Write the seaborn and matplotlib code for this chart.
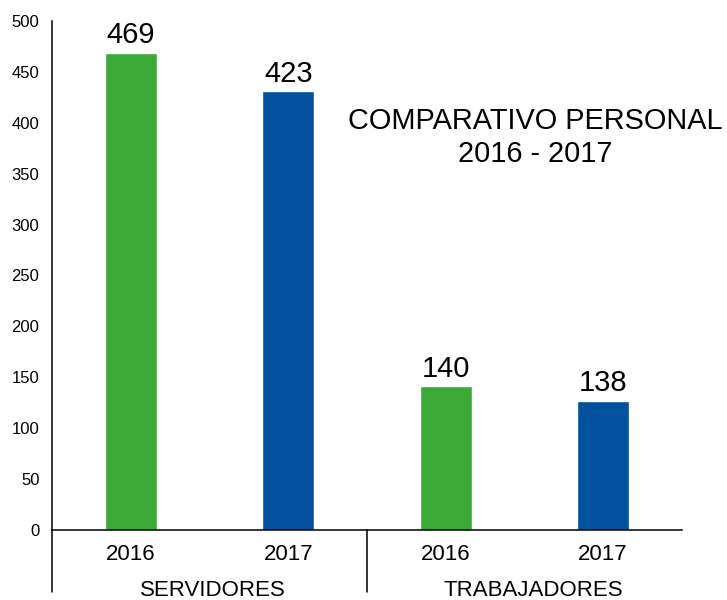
import numpy as np
import pandas as pd
import matplotlib
matplotlib.use("Agg")
import matplotlib.pyplot as plt
import seaborn as sns

# datos
grupos = ["SERVIDORES", "SERVIDORES", "TRABAJADORES", "TRABAJADORES"]
anios = ["2016", "2017", "2016", "2017"]
alturas = [469, 431, 141, 127]          # alto de las barras como se ven en el grafico
etiquetas = ["469", "423", "140", "138"]  # numeros escritos sobre las barras
colores = {"2016": "#3CAA36", "2017": "#02509E"}

df = pd.DataFrame({"grupo": grupos, "anio": anios, "valor": alturas})
df["clave"] = df["grupo"] + " " + df["anio"]

sns.set_style("white")
plt.rcParams["font.family"] = ["Liberation Sans", "DejaVu Sans"]
plt.rcParams["text.color"] = "black"
plt.rcParams["xtick.color"] = "black"
plt.rcParams["ytick.color"] = "black"

fig = plt.figure(figsize=(7.27, 6.0), dpi=100)
ax = fig.add_axes([0.0715, 0.1167, 0.8665, 0.8483])

sns.barplot(data=df, x="clave", y="valor", hue="anio", palette=colores,
            dodge=False, width=0.33, legend=False, saturation=1, ax=ax)

# numeros sobre las barras (ordenadas de izquierda a derecha)
barras = sorted(ax.patches, key=lambda p: p.get_x())
for p, txt in zip(barras, etiquetas):
    ax.annotate(txt, (p.get_x() + p.get_width() / 2, p.get_height()),
                xytext=(0, 7), textcoords="offset points",
                ha="center", va="baseline", fontsize=21, color="black")

ax.set_xlim(-0.5, len(anios) - 0.5)
ax.set_ylim(0, 500)
ax.set_yticks(np.arange(0, 501, 50))
ax.set_xticks(range(len(anios)))
ax.set_xticklabels(anios)
ax.tick_params(axis="y", length=0, pad=9, labelsize=12)
ax.tick_params(axis="x", length=0, pad=10, labelsize=16)
ax.set_xlabel("")
ax.set_ylabel("")

for s in ["top", "right"]:
    ax.spines[s].set_visible(False)
for s in ["left", "bottom"]:
    ax.spines[s].set_color("black")
    ax.spines[s].set_linewidth(1.1)

# lineas que separan los grupos bajo el eje
for xf in [0.0, 0.5]:
    ax.plot([xf, xf], [0, -0.122], transform=ax.transAxes, color="black",
            lw=1.1, clip_on=False)

for xf, g in [(0.2556, "SERVIDORES"), (0.7635, "TRABAJADORES")]:
    ax.text(xf, -0.129, g, transform=ax.transAxes, ha="center",
            va="baseline", fontsize=16)

fig.text(535 / 727, 0.771, "COMPARATIVO PERSONAL\n2016 - 2017", ha="center",
         va="center", fontsize=20.8, linespacing=1.22)

fig.savefig("out.png", dpi=100)
